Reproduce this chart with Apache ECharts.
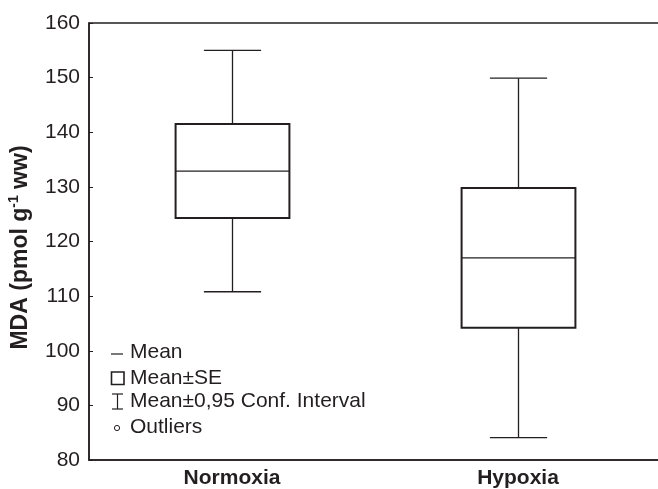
<!DOCTYPE html>
<html lang="en">
<head>
    <meta charset="UTF-8">
    <title>MDA box plot</title>
    <script src="https://cdn.jsdelivr.net/npm/echarts@6/dist/echarts.min.js"></script>
    <style>
        html, body { margin: 0; padding: 0; background: #fff; }
    </style>
</head>
<body>
    <div id="main" style="width: 658px; height: 489px;"></div>
</body>
</html>

<script>
    // groups on the x axis
    var groups = ['Normoxia', 'Hypoxia'];
    // lower CI, mean-SE, mean, mean+SE, upper CI
    var ciLow = [110.8, 84.1];
    var seLow = [124.3, 104.2];
    var means = [132.9, 117.0];
    var seHigh = [141.5, 129.8];
    var ciHigh = [155.0, 149.9];
    var yTicks = { min: 80, max: 160, step: 10 };

    var legendItems = ['Mean', 'Mean±SE', 'Mean±0,95 Conf. Interval', 'Outliers'];

    var ink = '#231f20';
    var font = 'Liberation Sans, Arial, Helvetica, sans-serif';

    var boxData = [];
    for (var i = 0; i < groups.length; i++) {
        boxData.push([i, ciLow[i], seLow[i], means[i], seHigh[i], ciHigh[i]]);
    }

    var man = document.querySelector('#main');
    const myChart = echarts.init(man);

    function renderBox(params, api) {
        var x = api.value(0);
        var pLo = api.coord([x, api.value(1)]);
        var pQ1 = api.coord([x, api.value(2)]);
        var pMd = api.coord([x, api.value(3)]);
        var pQ3 = api.coord([x, api.value(4)]);
        var pHi = api.coord([x, api.value(5)]);
        var band = api.size([1, 0])[0];
        var half = band * 0.199;   // box half width
        var cap = band * 0.1;      // whisker cap half width
        var cx = Math.round(pMd[0]) + 0.5;
        var lineStyle = { stroke: ink, lineWidth: 1.3, fill: null };
        return {
            type: 'group',
            children: [
                // whiskers
                { type: 'line', shape: { x1: cx, y1: pHi[1], x2: cx, y2: pQ3[1] }, style: lineStyle },
                { type: 'line', shape: { x1: cx, y1: pQ1[1], x2: cx, y2: pLo[1] }, style: lineStyle },
                { type: 'line', shape: { x1: cx - cap, y1: pHi[1], x2: cx + cap, y2: pHi[1] }, style: lineStyle },
                { type: 'line', shape: { x1: cx - cap, y1: pLo[1], x2: cx + cap, y2: pLo[1] }, style: lineStyle },
                // SE box
                {
                    type: 'rect',
                    shape: { x: cx - half, y: pQ3[1], width: half * 2, height: pQ1[1] - pQ3[1] },
                    style: { stroke: ink, lineWidth: 2, fill: '#fff' }
                },
                // mean
                { type: 'line', shape: { x1: cx - half, y1: pMd[1], x2: cx + half, y2: pMd[1] }, style: { stroke: ink, lineWidth: 1.2 } }
            ]
        };
    }

    // legend block drawn in the lower left corner
    var lgX = 111, lgText = 130;
    var lgY = [352, 378, 401, 427];
    var legendGraphics = [
        { type: 'line', shape: { x1: lgX, y1: lgY[0] + 2, x2: lgX + 12, y2: lgY[0] + 2 }, style: { stroke: ink, lineWidth: 1.2 } },
        { type: 'rect', shape: { x: lgX + 0.5, y: lgY[1] - 6, width: 12.5, height: 12.5 }, style: { stroke: ink, lineWidth: 1.6, fill: '#fff' } },
        { type: 'line', shape: { x1: lgX + 6.5, y1: lgY[2] - 7, x2: lgX + 6.5, y2: lgY[2] + 8 }, style: { stroke: ink, lineWidth: 1.2 } },
        { type: 'line', shape: { x1: lgX + 1, y1: lgY[2] - 7, x2: lgX + 12, y2: lgY[2] - 7 }, style: { stroke: ink, lineWidth: 1.2 } },
        { type: 'line', shape: { x1: lgX + 1, y1: lgY[2] + 8, x2: lgX + 12, y2: lgY[2] + 8 }, style: { stroke: ink, lineWidth: 1.2 } },
        { type: 'circle', shape: { cx: lgX + 6, cy: lgY[3] + 1, r: 2.6 }, style: { stroke: ink, lineWidth: 1, fill: '#fff' } }
    ];
    for (var k = 0; k < legendItems.length; k++) {
        legendGraphics.push({
            type: 'text',
            left: lgText,
            top: lgY[k] - 10,
            style: { text: legendItems[k], fill: ink, font: '21px ' + font }
        });
    }

    var option = {
        backgroundColor: '#fff',
        animation: false,
        textStyle: { fontFamily: font, color: ink },
        grid: {
            left: 89,
            top: 23,
            bottom: 29,
            width: 572,
            outerBoundsMode: 'none',
            containLabel: false,
            show: true,
            borderColor: ink,
            borderWidth: 1.5,
            backgroundColor: 'transparent'
        },
        xAxis: {
            type: 'category',
            data: groups,
            boundaryGap: true,
            axisLine: { lineStyle: { color: ink, width: 1.5 } },
            axisTick: { inside: true, alignWithLabel: true, length: 4, lineStyle: { color: ink, width: 1 } },
            axisLabel: { color: ink, fontSize: 21, fontWeight: 'bold', margin: 8, fontFamily: font },
            splitLine: { show: false }
        },
        yAxis: {
            type: 'value',
            min: yTicks.min,
            max: yTicks.max,
            interval: yTicks.step,
            name: '{b|MDA (pmol g}{s|-1}{b| ww)}',
            nameLocation: 'middle',
            nameRotate: 90,
            nameGap: 54,
            nameTextStyle: {
                padding: [0, 12, 0, 0],
                rich: {
                    b: { fontSize: 23, fontWeight: 'bold', color: ink, fontFamily: font, lineHeight: 28 },
                    s: { fontSize: 14, fontWeight: 'bold', color: ink, fontFamily: font, verticalAlign: 'top', lineHeight: 28 }
                }
            },
            axisLine: { show: true, lineStyle: { color: ink, width: 1.5 } },
            axisTick: { show: true, inside: true, length: 4, lineStyle: { color: ink, width: 1 } },
            axisLabel: { color: ink, fontSize: 21, margin: 9, fontFamily: font },
            splitLine: { show: false }
        },
        series: [{
            type: 'custom',
            renderItem: renderBox,
            encode: { x: 0, y: [1, 2, 3, 4, 5] },
            data: boxData
        }],
        graphic: legendGraphics
    };
    myChart.setOption(option);
</script>
